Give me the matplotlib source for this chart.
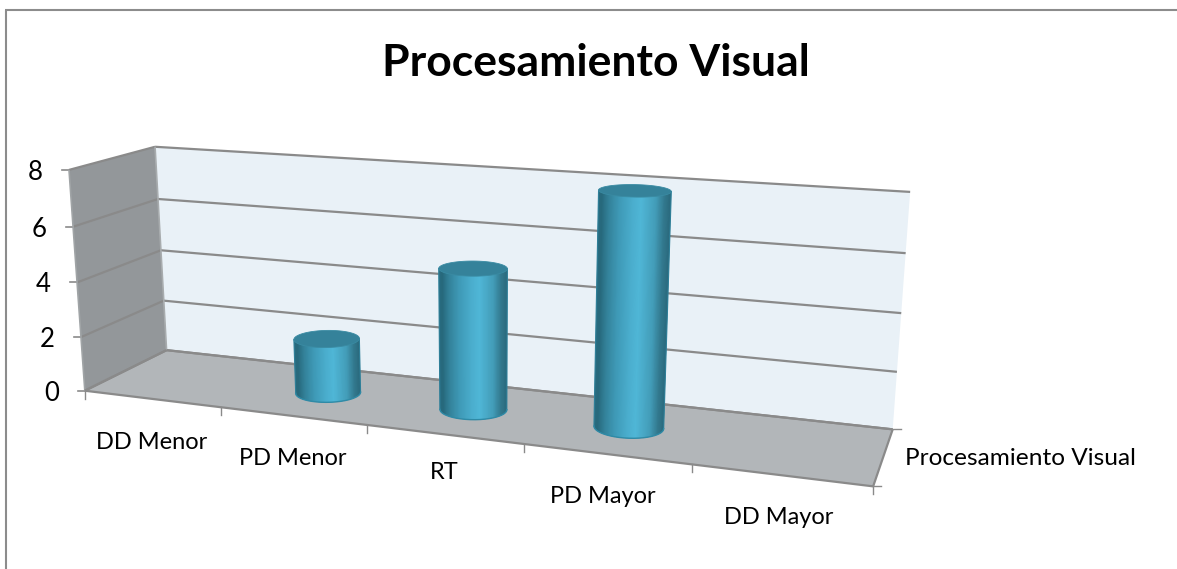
import numpy as np
import matplotlib
matplotlib.use("Agg")
import matplotlib.pyplot as plt
from matplotlib.collections import PolyCollection
from matplotlib.colors import LinearSegmentedColormap
from matplotlib.patches import Polygon

plt.rcParams['font.family'] = ['Lato', 'DejaVu Sans']

title = "Procesamiento Visual"
series_name = "Procesamiento Visual"
categories = ["DD Menor", "PD Menor", "RT", "PD Mayor", "DD Mayor"]
values = [0, 2, 5, 8, 0]
y_ticks = [0, 2, 4, 6, 8]

W, H = 1177, 569
fig = plt.figure(figsize=(W / 100, H / 100), dpi=100, facecolor="white")
ax = fig.add_axes([0, 0, 1, 1])
ax.set_xlim(0, W)
ax.set_ylim(H, 0)
ax.axis("off")

# calibration of the 3D box: (category pos, value, depth) -> pixel
calib = [
    (0, 8, 0, 69, 170), (0, 6, 0, 73, 226), (0, 4, 0, 77, 282), (0, 2, 0, 81, 337), (0, 0, 0, 85, 390),
    (0, 8, 1, 155, 147), (0, 6, 1, 158, 199), (0, 4, 1, 161, 251), (0, 2, 1, 164, 301), (0, 0, 1, 166, 350),
    (5, 8, 1, 910, 192), (5, 6, 1, 906, 253), (5, 4, 1, 901, 313), (5, 2, 1, 897, 372), (5, 0, 1, 893, 428),
    (1, 0, 0, 221.5, 407), (2, 0, 0, 367, 425), (3, 0, 0, 524, 446), (4, 0, 0, 691, 465), (5, 0, 0, 873, 486),
]
A, b = [], []
for X, Y, Z, u, v in calib:
    A.append([X, Y, Z, 1, 0, 0, 0, 0, -u * X, -u * Y, -u * Z])
    A.append([0, 0, 0, 0, X, Y, Z, 1, -v * X, -v * Y, -v * Z])
    b += [u, v]
P = np.linalg.lstsq(np.array(A, float), np.array(b, float), rcond=None)[0]
P = np.append(P, 1.0).reshape(3, 4)


def proj(X, Y, Z):
    X, Y, Z = np.broadcast_arrays(np.asarray(X, float), np.asarray(Y, float), np.asarray(Z, float))
    pts = np.stack([X, Y, Z, np.ones_like(X)], axis=-1) @ P.T
    return pts[..., 0] / pts[..., 2], pts[..., 1] / pts[..., 2]


def quad(c):
    xs, ys = zip(*[proj(*p) for p in c])
    return list(zip(xs, ys))


ymax = y_ticks[-1]
n = len(categories)
GREY = "#8a8a8a"
ax.add_patch(Polygon(quad([(0, 0, 0), (0, 0, 1), (0, ymax, 1), (0, ymax, 0)]), fc="#93979a", ec="none", zorder=1))
ax.add_patch(Polygon(quad([(0, 0, 1), (n, 0, 1), (n, ymax, 1), (0, ymax, 1)]), fc="#e9f1f7", ec="none", zorder=1))
ax.add_patch(Polygon(quad([(0, 0, 0), (n, 0, 0), (n, 0, 1), (0, 0, 1)]), fc="#b2b6b9", ec="none", zorder=1))


def seg(p, q, lw=1.6, c=GREY, z=2):
    x0, y0 = proj(*p)
    x1, y1 = proj(*q)
    ax.plot([x0, x1], [y0, y1], color=c, lw=lw, zorder=z, solid_capstyle="butt")


for t in y_ticks:
    seg((0, t, 0), (0, t, 1))
    seg((0, t, 1), (n, t, 1))
    x, y = proj(0, t, 0)
    ax.plot([x - 7, x], [y, y], color=GREY, lw=1.2, zorder=2)
    ax.text(x - 26, y + 2.5, str(t), ha="right", va="center", fontsize=18.5, color="black")
seg((0, 0, 0), (0, ymax, 0), lw=1.2, c="#a0a4a6")
seg((0, 0, 1), (0, ymax, 1), lw=1.2, c="#a8acae")
seg((0, 0, 0), (0, 0, 1))
seg((0, 0, 0), (n, 0, 0), z=3)
seg((0, 0, 1), (n, 0, 1))
seg((n, 0, 0), (n, 0, 1), z=3)
for i in range(n + 1):
    x, y = proj(i, 0, 0)
    ax.plot([x, x], [y, y + 8], color=GREY, lw=1.0, zorder=2)
x, y = proj(n, 0, 0)
ax.plot([x, x + 8], [y, y], color=GREY, lw=1.0, zorder=2)
x, y = proj(n, 0, 1)
ax.plot([x, x + 8], [y, y], color=GREY, lw=1.0, zorder=2)

shade = LinearSegmentedColormap.from_list("cyl", [
    (0.0, "#2a6e83"), (0.05, "#26687b"), (0.15, "#338199"), (0.30, "#3f9ab7"), (0.50, "#4cb0d0"),
    (0.60, "#50b7d7"), (0.80, "#439db9"), (0.92, "#32788d"), (1.0, "#2b6a7e")])
RX, RD, D0 = 0.21, 0.2, 0.5


def front_arc(ex, ey):
    """Part of a closed ellipse from its leftmost to rightmost point, on the viewer's side."""
    ex, ey = ex[:-1], ey[:-1]
    k = ex.argmin()
    ex, ey = np.roll(ex, -k), np.roll(ey, -k)
    m = ex.argmax()
    a = (ex[:m + 1], ey[:m + 1])
    c = (np.r_[ex[m:], ex[0]][::-1], np.r_[ey[m:], ey[0]][::-1])
    return a if a[1].mean() > c[1].mean() else c


for i, val in enumerate(values):
    if val == 0:
        continue
    cx = i + 0.5
    th = np.linspace(0, 2 * np.pi, 721)
    X, Zd = cx + RX * np.cos(th), D0 + RD * np.sin(th)
    bx, by = proj(X, 0, Zd)
    tx, ty = proj(X, val, Zd)
    tl, tr = tx.argmin(), tx.argmax()
    fbx, fby = front_arc(bx, by)
    outline = np.vstack([[tx[tl], ty[tl]], np.c_[fbx, fby], [tx[tr], ty[tr]]])
    sil = Polygon(outline, closed=True, fc="#3f9ab7", ec="none", zorder=4 + i)
    ax.add_patch(sil)
    # parallel shaded strips between the two silhouette lines, clipped to the outline
    ss = np.linspace(0, 1, 81)
    # extend the strips beyond the silhouette so the clip path decides the outline
    yb, yt = fby.max() + 2, ty.min() - 2
    polys, cols = [], []
    for s0, s1 in zip(ss[:-1], ss[1:]):
        xb0 = fbx[0] + (fbx[-1] - fbx[0]) * s0
        xb1 = fbx[0] + (fbx[-1] - fbx[0]) * s1
        xt0 = tx[tl] + (tx[tr] - tx[tl]) * s0
        xt1 = tx[tl] + (tx[tr] - tx[tl]) * s1
        polys.append([(xb0, yb), (xb1, yb), (xt1, yt), (xt0, yt)])
        cols.append(shade((s0 + s1) / 2))
    pc = PolyCollection(polys, facecolors=cols, edgecolors=cols, linewidths=0.5, zorder=4 + i)
    ax.add_collection(pc)
    pc.set_clip_path(sil)
    ax.plot([tx[tl], fbx[0]], [ty[tl], fby[0]], color="#2f7f98", lw=0.8, zorder=4 + i)
    ax.plot([tx[tr], fbx[-1]], [ty[tr], fby[-1]], color="#2f7f98", lw=0.8, zorder=4 + i)
    ax.plot(fbx, fby, color="#2f8aa6", lw=1.0, zorder=4 + i)
    ax.add_patch(Polygon(np.c_[tx, ty], fc="#35829a", ec="#3a8ba3", lw=0.6, zorder=4 + i))

label_pos = [(152, 441), (293, 457), (444, 471), (603, 495), (779, 517)]
for c, (x, y) in zip(categories, label_pos):
    ax.text(x, y + 1, c, ha="center", va="center", fontsize=17, color="black")
ax.text(905, 458, series_name, ha="left", va="center", fontsize=17.6, color="black")
ax.text(595.5, 63, title, ha="center", va="center", fontsize=32, fontweight="bold", color="black")

ax.plot([6, 6], [H, 10], color="#8c8c8c", lw=1.5, zorder=10, solid_capstyle="butt")
ax.plot([5, W], [10, 10], color="#8c8c8c", lw=1.5, zorder=10, solid_capstyle="butt")

fig.savefig("out.png", dpi=100)
